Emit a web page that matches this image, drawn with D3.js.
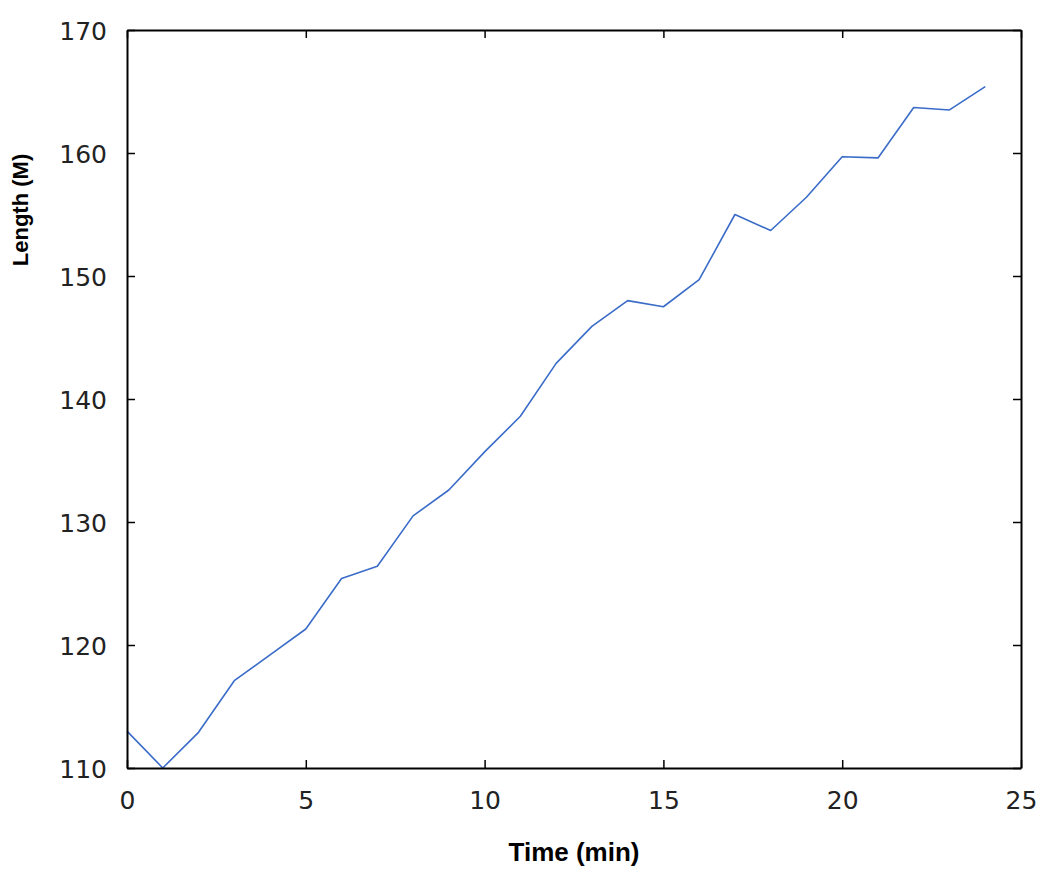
<!DOCTYPE html>
<html>
<head>
<meta charset="utf-8">
<script src="https://cdn.jsdelivr.net/npm/d3@7"></script>
<style>
    body { margin: 0; background: #fff; }
    .tick text { font-family: "DejaVu Sans", sans-serif; font-size: 25px; fill: #222; }
    .axis-title { font-family: "Liberation Sans", Arial, sans-serif; font-weight: bold; fill: #000; }
</style>
</head>
<body>
<div id="chart"></div>
<script>
// time in minutes
var times = [0, 1, 2, 3, 4, 5, 6, 7, 8, 9, 10, 11, 12, 13, 14, 15, 16, 17, 18, 19, 20, 21, 22, 23, 24];
// length (M)
var lengths = [113.0, 110.0, 112.9, 117.1, 119.2, 121.3, 125.4, 126.4, 130.5, 132.6, 135.7, 138.6,
    142.9, 145.9, 148.0, 147.5, 149.7, 155.0, 153.7, 156.4, 159.7, 159.6, 163.7, 163.5, 165.4];
var xTicks = [0, 5, 10, 15, 20, 25];
var yTicks = [110, 120, 130, 140, 150, 160, 170];

var margin = {top: 30, right: 29, bottom: 109, left: 127},
    width = 1050 - margin.left - margin.right,
    height = 877 - margin.top - margin.bottom;

var svg = d3.select("#chart").append("svg")
    .attr("width", 1050)
    .attr("height", 877);

var g = svg.append("g")
    .attr("transform", "translate(" + margin.left + "," + margin.top + ")");

var x = d3.scaleLinear().domain([0, 25]).range([0, width]);
var y = d3.scaleLinear().domain([110, 170]).range([height, 0]);

var data = times.map(function(t, i) { return {t: t, v: lengths[i]}; });

var line = d3.line()
    .x(function(d) { return x(d.t); })
    .y(function(d) { return y(d.v); });

g.append("path")
    .datum(data)
    .attr("fill", "none")
    .attr("stroke", "#3a6cc8")
    .attr("stroke-width", 1.6)
    .attr("stroke-linejoin", "round")
    .attr("d", line);

// axes, ticks pointing inward
var bottom = g.append("g")
    .attr("class", "axis")
    .attr("transform", "translate(0," + height + ")")
    .call(d3.axisBottom(x).tickValues(xTicks).tickSizeInner(-8).tickSizeOuter(0).tickPadding(28));

var left = g.append("g")
    .attr("class", "axis")
    .call(d3.axisLeft(y).tickValues(yTicks).tickSizeInner(-8).tickSizeOuter(0).tickPadding(20));

var top = g.append("g")
    .attr("class", "axis")
    .call(d3.axisTop(x).tickValues(xTicks).tickSizeInner(-8).tickSizeOuter(0).tickFormat(""));

var right = g.append("g")
    .attr("class", "axis")
    .attr("transform", "translate(" + width + ",0)")
    .call(d3.axisRight(y).tickValues(yTicks).tickSizeInner(-8).tickSizeOuter(0).tickFormat(""));

g.selectAll(".axis .domain").attr("stroke", "#000").attr("stroke-width", 2);
g.selectAll(".axis .tick line").attr("stroke", "#000").attr("stroke-width", 1.5);
bottom.selectAll(".tick text").attr("dy", "0.5em");
left.selectAll(".tick text").attr("dy", "0.36em");

// axis titles
svg.append("text")
    .attr("class", "axis-title")
    .attr("x", margin.left + width / 2)
    .attr("y", 861)
    .style("font-size", "26px")
    .attr("text-anchor", "middle")
    .text("Time (min)");

svg.append("text")
    .attr("class", "axis-title")
    .attr("transform", "translate(28,210) rotate(-90)")
    .style("font-size", "22px")
    .attr("text-anchor", "middle")
    .text("Length (M)");
</script>
</body>
</html>
